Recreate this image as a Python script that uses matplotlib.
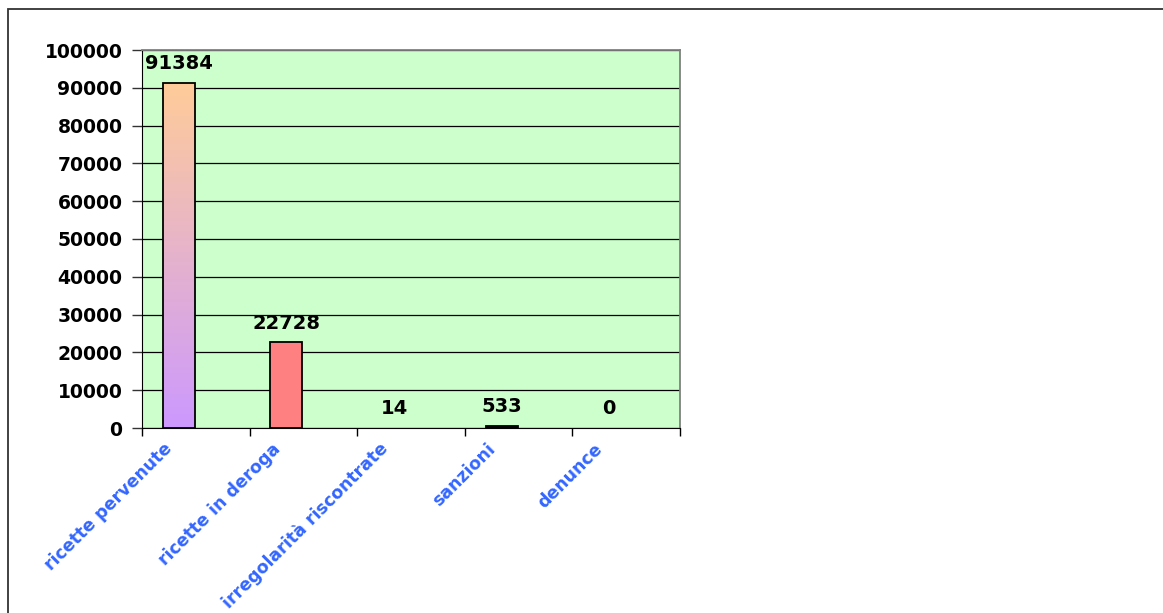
import matplotlib

matplotlib.use("Agg")
import matplotlib.pyplot as plt
import numpy as np
from matplotlib.patches import Rectangle
from matplotlib.transforms import ScaledTranslation

categories = [
    "ricette pervenute",
    "ricette in deroga",
    "irregolarità riscontrate",
    "sanzioni",
    "denunce",
]
values = [91384, 22728, 14, 533, 0]
value_labels = ["91384", "22728", "14", "533", "0"]
bar_colors = [None, "#FF8080", "#FF8080", "#000000", "#FF8080"]
y_ticks = [0, 10000, 20000, 30000, 40000, 50000, 60000, 70000, 80000, 90000, 100000]

plt.rcParams["font.family"] = ["DejaVu Sans"]

fig = plt.figure(figsize=(11.63, 6.13), dpi=100)
fig.patch.set_facecolor("white")

# outer chart frame (runs off the right and bottom edges)
W, H = 1163, 613
fig.patches.append(Rectangle((8 / W, -0.1), 1.2, (H - 9) / H + 0.1,
                             transform=fig.transFigure, fill=False,
                             edgecolor="#333333", linewidth=1.3))

ax = fig.add_axes([142 / W, (H - 428) / H, (680 - 142) / W, (428 - 50) / H])
ax.set_facecolor("#CCFFCC")

x = np.arange(len(categories)) + 0.5 - 0.158
width = 0.297

bars = ax.bar(x, values, width=width, edgecolor="black", linewidth=1.3, zorder=3)
for bar, color, v in zip(bars, bar_colors, values):
    if color is not None:
        bar.set_facecolor(color)
    if v < 100:
        bar.set_linewidth(0)

# gradient fill for the first bar: peach on top, lilac at the bottom
first = bars[0]
first.set_facecolor("none")
grad = np.linspace(0, 1, 256).reshape(-1, 1)
top = np.array([0xFF, 0xCC, 0x99]) / 255
bottom = np.array([0xCC, 0x99, 0xFF]) / 255
img = (bottom[None, None, :] * (1 - grad[..., None]) + top[None, None, :] * grad[..., None])
x0 = first.get_x()
im = ax.imshow(img, extent=[x0, x0 + width, 0, values[0]], origin="lower",
               aspect="auto", zorder=2)
im.set_clip_path(first)

ax.set_xlim(0, len(categories))
ax.set_ylim(0, 100000)

ax.set_yticks(y_ticks)
ax.set_yticklabels([str(v) for v in y_ticks], fontsize=13.5, fontweight="bold")
ax.yaxis.grid(True, color="black", linewidth=0.9, zorder=1)
ax.set_axisbelow(True)
ax.tick_params(axis="y", length=7, width=1, pad=7, color="#333333")

ax.set_xticks(np.arange(len(categories) + 1), minor=True)
ax.tick_params(axis="x", which="minor", length=6, width=1, direction="out")
ax.set_xticks(x)
ax.set_xticklabels(categories, rotation=45, ha="right", va="center",
                   rotation_mode="anchor", fontsize=12.5, fontweight="bold",
                   color="#3366FF")
ax.tick_params(axis="x", which="major", length=0, pad=13)
shift = ScaledTranslation(-9 / 100, 0, fig.dpi_scale_trans)
for lab in ax.get_xticklabels():
    lab.set_transform(lab.get_transform() + shift)

for xi, v, lab in zip(x, values, value_labels):
    ax.annotate(lab, (xi, v), xytext=(0, 19), textcoords="offset pixels",
                ha="center", va="center", fontsize=14, fontweight="bold")

for side in ["top", "right"]:
    ax.spines[side].set_color("#808080")
    ax.spines[side].set_linewidth(1.3)
ax.spines["left"].set_color("black")
ax.spines["bottom"].set_color("black")

fig.savefig("out.png", dpi=100)
